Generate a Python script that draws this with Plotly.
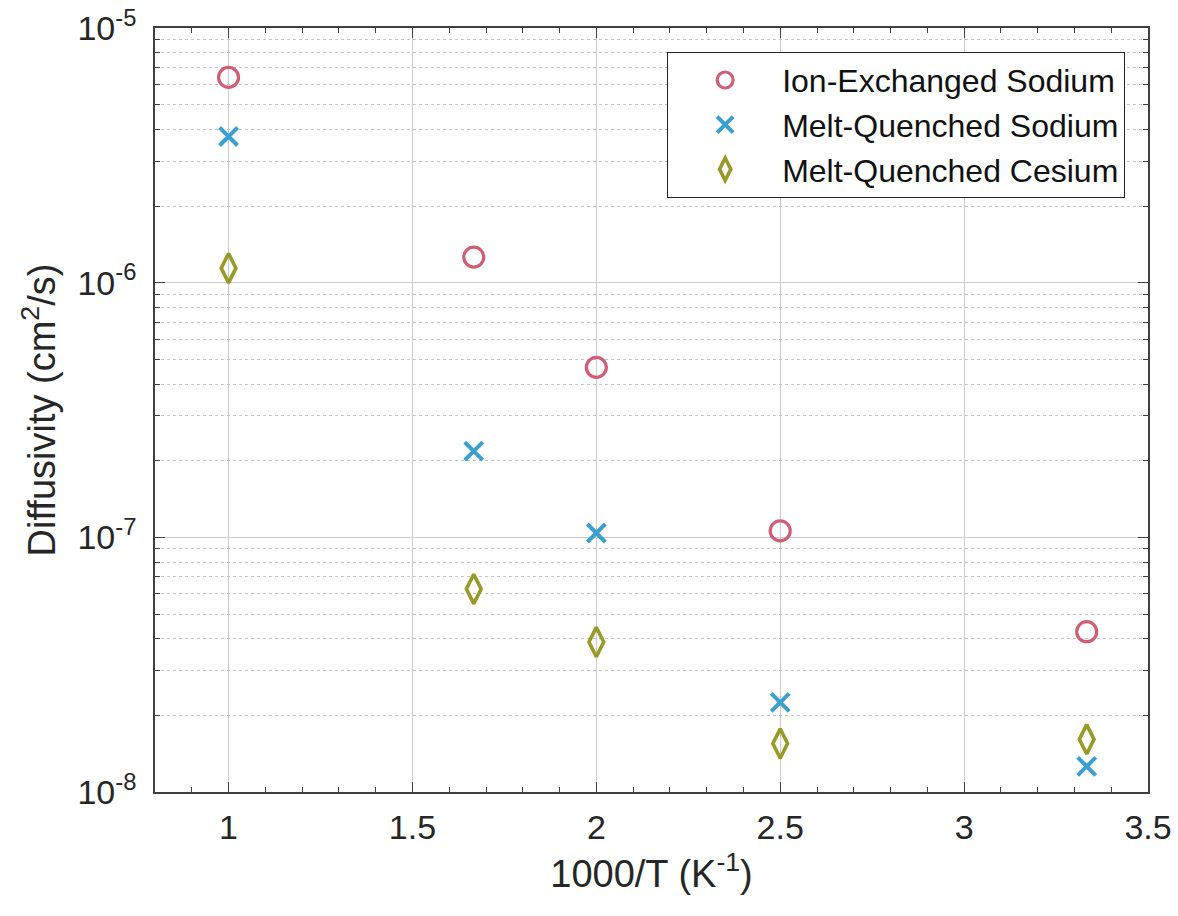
import plotly.graph_objects as go

# 1000/T values (K^-1)
inv_T = [1.0, 1.6667, 2.0, 2.5, 3.3333]

# Diffusivity values (cm^2/s)
ion_exchanged_na = [6.4e-6, 1.26e-6, 4.65e-7, 1.06e-7, 4.26e-8]
melt_quenched_na = [3.75e-6, 2.18e-7, 1.04e-7, 2.25e-8, 1.26e-8]
melt_quenched_cs = [1.14e-6, 6.27e-8, 3.88e-8, 1.55e-8, 1.61e-8]

series_names = ["Ion-Exchanged Sodium", "Melt-Quenched Sodium", "Melt-Quenched Cesium"]

x_tickvals = [1, 1.5, 2, 2.5, 3, 3.5]
x_ticktext = ["1", "1.5", "2", "2.5", "3", "3.5"]
y_tickvals = [1e-8, 1e-7, 1e-6, 1e-5]
y_ticktext = ["10<sup>-8</sup>", "10<sup>-7</sup>", "10<sup>-6</sup>", "10<sup>-5</sup>"]

FONT = "Liberation Sans, Arial, sans-serif"
TXT = "#262626"
AX = "#404040"

fig = go.Figure()
fig.add_trace(go.Scatter(
    x=inv_T, y=ion_exchanged_na, mode="markers", name=series_names[0],
    marker=dict(symbol="circle-open", size=20, color="#d05f75",
                line=dict(width=3.2, color="#d05f75"))))
fig.add_trace(go.Scatter(
    x=inv_T, y=melt_quenched_na, mode="markers", name=series_names[1],
    marker=dict(symbol="x-thin-open", size=18, color="#3aa0d0",
                line=dict(width=4, color="#3aa0d0"))))
fig.add_trace(go.Scatter(
    x=inv_T, y=melt_quenched_cs, mode="markers", name=series_names[2],
    marker=dict(symbol="diamond-tall-open", size=21, color="#979a26",
                line=dict(width=3.6, color="#979a26"))))

fig.update_layout(
    width=1178, height=916,
    paper_bgcolor="white", plot_bgcolor="white",
    margin=dict(l=155, r=30, t=28, b=124),
    font=dict(family=FONT, color=TXT),
    showlegend=True,
    legend=dict(x=0.977, xanchor="right", y=0.969, yanchor="top",
                bgcolor="white", bordercolor=TXT, borderwidth=1,
                font=dict(size=32, family=FONT, color="#111111"),
                itemwidth=104, tracegroupgap=0),
    xaxis=dict(
        range=[0.8, 3.5], tickvals=x_tickvals, ticktext=x_ticktext,
        ticks="inside", ticklen=10, tickwidth=1.3, tickcolor=AX,
        showline=True, linecolor=AX, linewidth=1.5, mirror="allticks",
        showgrid=True, gridcolor="#cccccc", gridwidth=1.2,
        zeroline=False, ticklabelstandoff=4,
        tickfont=dict(size=34, family=FONT, color=TXT),
        minor=dict(dtick=0.1, tick0=0, ticks="inside", ticklen=5,
                   tickcolor=AX, tickwidth=1.3, showgrid=False),
        title=dict(text="1000/T (K<sup>-1</sup>)", font=dict(size=38, family=FONT, color=TXT),
                   standoff=16),
        automargin=False,
    ),
    yaxis=dict(
        type="log", range=[-8, -5], tickvals=y_tickvals, ticktext=y_ticktext,
        ticks="inside", ticklen=10, tickwidth=1.3, tickcolor=AX,
        showline=True, linecolor=AX, linewidth=1.5, mirror="allticks",
        showgrid=True, gridcolor="#cccccc", gridwidth=1.2,
        zeroline=False, ticklabelstandoff=10,
        tickfont=dict(size=34, family=FONT, color=TXT),
        minor=dict(dtick="D1", ticks="inside", ticklen=5, tickcolor=AX, tickwidth=1.3,
                   showgrid=True, gridcolor="#c4c4c4", griddash="dot", gridwidth=1.2),
        title=dict(text="Diffusivity (cm<sup>2</sup>/s)", font=dict(size=38, family=FONT, color=TXT),
                   standoff=10),
        automargin=False,
    ),
)

fig.write_html("out.html")
